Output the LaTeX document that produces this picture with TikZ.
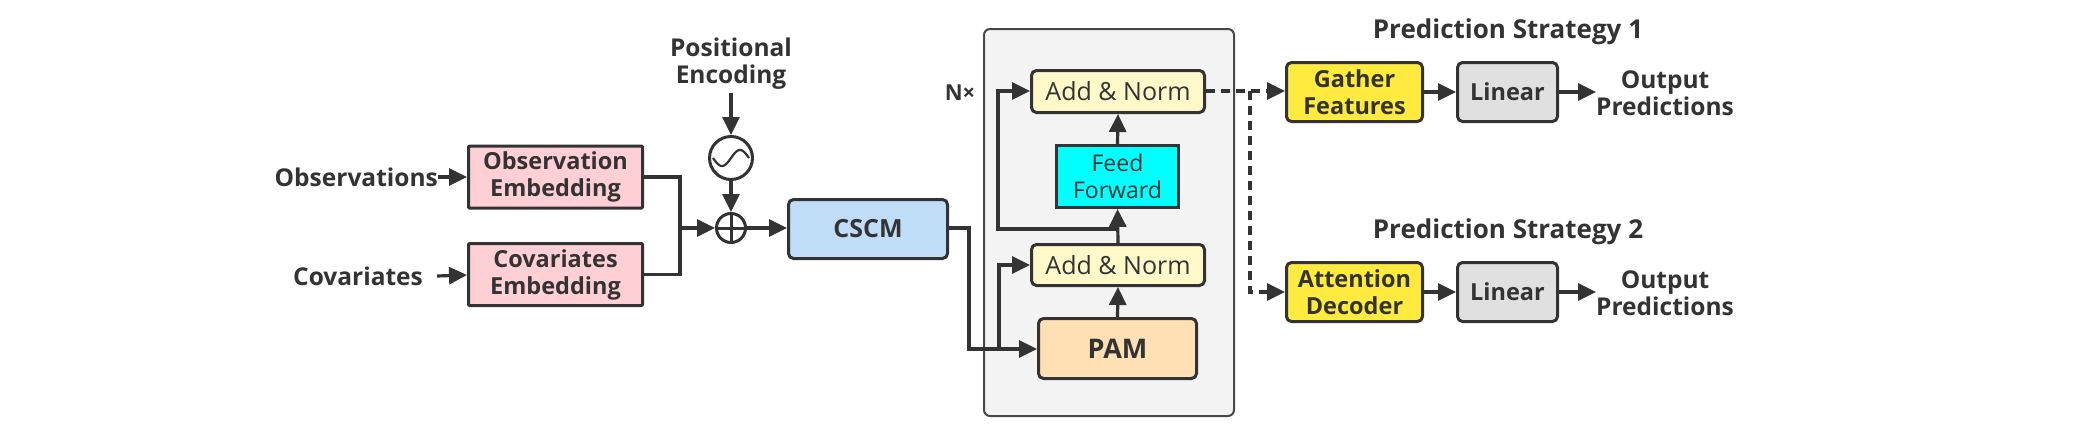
\documentclass[tikz,border=0pt]{standalone}
\usepackage{fontspec}
\setmainfont{Open Sans}
\usetikzlibrary{arrows.meta,calc}
\definecolor{ink}{HTML}{333333}
\definecolor{pinkf}{HTML}{FFCFD6}
\definecolor{bluef}{HTML}{BFDDF7}
\definecolor{contf}{HTML}{F3F3F3}
\definecolor{contd}{HTML}{484848}
\definecolor{normf}{HTML}{FFF8C8}
\definecolor{cyanf}{HTML}{00FFFF}
\definecolor{pamf}{HTML}{FFE0B4}
\definecolor{yelf}{HTML}{FFEB3F}
\definecolor{grayf}{HTML}{E0E0E0}
\tikzset{
  x=1pt,y=-1pt,
  blk/.style={draw=ink,line width=3pt,rounded corners=5pt,align=center,inner sep=0pt,
    font=\fontsize{23.5}{27}\selectfont\bfseries,text=ink},
  lbl/.style={align=center,inner sep=0pt,font=\fontsize{24.5}{27}\selectfont\bfseries,text=ink},
  reg/.style={font=\fontsize{25}{27}\selectfont\mdseries},
  conn/.style={draw=ink,line width=3.2pt,-{Triangle[length=18pt,width=17pt]}},
  seg/.style={draw=ink,line width=3.2pt},
  dconn/.style={draw=ink,line width=3.2pt,dash pattern=on 9pt off 6pt,-{Triangle[length=18pt,width=17pt]}},
}
\begin{document}
\begin{tikzpicture}
\useasboundingbox (0,0) rectangle (2094,426);
% container
\node[draw=contd,fill=contf,line width=2pt,rounded corners=6pt,minimum width=250,minimum height=387,inner sep=0pt] (cont) at (1109,222.5) {};
% left side
\node[lbl,anchor=east] (obs) at (438,177) {Observations};
\node[lbl] (cov) at (358,276) {Covariates};
\node[blk,fill=pinkf,rounded corners=1pt,minimum width=174,minimum height=62] (obsE) at (555.5,177) {Observation\\Embedding};
\node[blk,fill=pinkf,rounded corners=1pt,minimum width=174,minimum height=62] (covE) at (555.5,274.5) {Covariates\\Embedding};
\node[lbl] (pe) at (731,64) {Positional\\Encoding};
\node[draw=ink,line width=3pt,circle,minimum size=43,inner sep=0pt] (sine) at (731,158) {};
\draw[ink,line width=2.2pt] plot[domain=-18:18,samples=40,smooth] ({731+\x},{158-8*sin(\x*180/18)});
\node[draw=ink,line width=3pt,circle,minimum size=29,inner sep=0pt] (plus) at (731,228) {};
\draw[ink,line width=3pt] (plus.north) -- (plus.south) (plus.west) -- (plus.east);
\coordinate (j) at (680,228);
\node[blk,fill=bluef,minimum width=159,minimum height=59,font=\fontsize{25}{27}\selectfont\bfseries] (cscm) at (868,229) {CSCM};
% encoder block
\node[lbl,font=\fontsize{22}{27}\selectfont\bfseries] (nx) at (960,93) {N\texttimes};
\node[blk,fill=normf,reg,minimum width=173,minimum height=42] (an2) at (1118,91.5) {Add \& Norm};
\node[blk,fill=cyanf,reg,font=\fontsize{23}{27}\selectfont\mdseries,rounded corners=0pt,minimum width=122,minimum height=62] (ff) at (1117.5,176.5) {Feed\\Forward};
\node[blk,fill=normf,reg,minimum width=173,minimum height=41] (an1) at (1118,265) {Add \& Norm};
\node[blk,fill=pamf,minimum width=158,minimum height=60,font=\fontsize{27}{27}\selectfont\bfseries] (pam) at (1117.5,348.5) {PAM};
% right side
\node[lbl,font=\fontsize{26}{27}\selectfont\bfseries] (ps1) at (1508,32) {Prediction Strategy 1};
\node[lbl,font=\fontsize{26}{27}\selectfont\bfseries] (ps2) at (1508,232) {Prediction Strategy 2};
\node[blk,fill=yelf,minimum width=136,minimum height=59] (gf) at (1354.5,92) {Gather\\Features};
\node[blk,fill=grayf,minimum width=100,minimum height=59] (l1) at (1507.5,92) {Linear};
\node[lbl,anchor=west] (o1) at (1596,93) {Output\\Predictions};
\node[blk,fill=yelf,minimum width=136,minimum height=59] (ad) at (1354.5,292) {Attention\\Decoder};
\node[blk,fill=grayf,minimum width=100,minimum height=59] (l2) at (1507.5,292) {Linear};
\node[lbl,anchor=west] (o2) at (1596,293) {Output\\Predictions};
% connectors left
\draw[conn] (obs.east) -- (obsE.west |- obs.east);
\draw[conn] (cov.east -| 437,0) -- (covE.west |- 0,275);
\draw[seg] (obsE.east) -| (j);
\draw[seg] (covE.east) -| (j);
\draw[conn] (j) -- (plus.west);
\draw[conn] (pe.south) ++(0,3) -- (sine.north);
\draw[conn] (sine.south) -- (plus.north);
\draw[conn] (plus.east) -- (cscm.west |- plus.east);
% encoder connectors
\coordinate (c1) at (969,228);
\coordinate (c2) at (969,349);
\coordinate (b1) at (999,349);
\coordinate (b2) at (999,265);
\draw[conn] (cscm.east |- c1) -- (c1) -- (c2) -- (pam.west |- c2);
\draw[conn] (b1) -- (b2) -- (an1.west |- b2);
\draw[conn] (pam.north) -- (an1.south);
\draw[conn] (an1.north) -- (ff.south);
\coordinate (r1) at (1118,229);
\coordinate (r2) at (998,229);
\coordinate (r3) at (998,91);
\draw[conn] (r1) -- (r2) -- (r3) -- (an2.west |- r3);
\draw[conn] (ff.north) -- (an2.south);
% dashed outputs
\coordinate (d1) at (1250,91);
\draw[dconn] (an2.east |- d1) -- (gf.west |- d1);
\draw[dconn] (d1) -- (1250,292) -- (ad.west);
% right connectors
\draw[conn] (gf.east) -- (l1.west);
\draw[conn] (l1.east) -- (o1.west |- l1.east);
\draw[conn] (ad.east) -- (l2.west);
\draw[conn] (l2.east) -- (o2.west |- l2.east);
\end{tikzpicture}
\end{document}
